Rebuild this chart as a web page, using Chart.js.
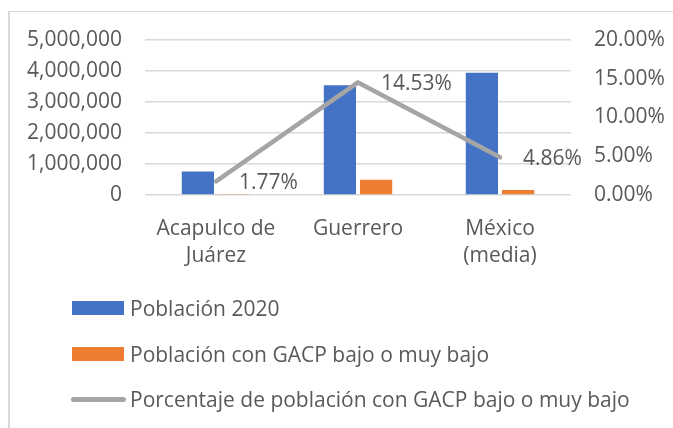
<!DOCTYPE html>
<html lang="es">
<head>
  <meta charset="UTF-8">
  <title>Población y GACP</title>
  <script src="https://cdn.jsdelivr.net/npm/chart.js"></script>
  <style>
    body {
      margin: 0;
      padding: 0;
      background: #ffffff;
      font-family: 'Open Sans', sans-serif;
      overflow: hidden;
    }
    .marco {
      position: absolute;
      left: 8px;
      top: 11px;
      width: 700px;
      height: 500px;
      border-left: 2px solid #d9d9d9;
      border-top: 1.5px solid #d9d9d9;
    }
    .contenedor {
      position: absolute;
      left: 0;
      top: 0;
      width: 673px;
      height: 428px;
    }
    .leyenda {
      position: absolute;
      left: 0;
      top: 0;
      font-size: 21px;
      color: #595959;
    }
    .item {
      position: absolute;
      left: 70px;
      height: 30px;
      display: flex;
      align-items: center;
      white-space: nowrap;
    }
    .muestra {
      display: inline-block;
      width: 52px;
      height: 14px;
      margin-left: 2px;
      margin-right: 6px;
    }
    .muestra.linea {
      width: 55px;
      height: 5px;
      border-radius: 3px;
      margin-left: 1px;
      margin-right: 4px;
    }
  </style>
</head>
<body>
  <div class="marco"></div>
  <div class="contenedor">
    <canvas id="graficoGACP"></canvas>
  </div>
  <div class="leyenda" id="leyenda"></div>

  <script>
    // Datos
    const categorias = [['Acapulco de', 'Juárez'], 'Guerrero', ['México', '(media)']];
    const nombresSeries = [
      'Población 2020',
      'Población con GACP bajo o muy bajo',
      'Porcentaje de población con GACP bajo o muy bajo'
    ];
    const poblacion2020 = [760000, 3540685, 3940000];
    const poblacionGACP = [13800, 490000, 165000];
    const porcentajeGACP = [1.77, 14.53, 4.86];

    const colores = ['#4472c4', '#ed7d31', '#a5a5a5'];
    const colorTexto = '#595959';
    const fuente = { family: "'Open Sans', sans-serif", size: 21 };

    Chart.defaults.color = colorTexto;
    Chart.defaults.font.family = fuente.family;
    Chart.defaults.font.size = fuente.size;

    // Etiquetas de datos a la derecha de cada punto de la línea
    const etiquetasLinea = {
      id: 'etiquetasLinea',
      afterDatasetsDraw(chart) {
        const meta = chart.getDatasetMeta(2);
        const ctx = chart.ctx;
        ctx.save();
        ctx.font = `${fuente.size}px ${fuente.family}`;
        ctx.fillStyle = colorTexto;
        ctx.textAlign = 'left';
        ctx.textBaseline = 'middle';
        meta.data.forEach((pt, i) => {
          ctx.fillText(porcentajeGACP[i].toFixed(2) + '%', pt.x + 23, pt.y + 2);
        });
        ctx.restore();
      }
    };

    new Chart(document.getElementById('graficoGACP').getContext('2d'), {
      type: 'bar',
      data: {
        labels: categorias,
        datasets: [
          {
            label: nombresSeries[0],
            data: poblacion2020,
            backgroundColor: colores[0],
            yAxisID: 'y',
            order: 2,
            categoryPercentage: 0.51,
            barPercentage: 0.89
          },
          {
            label: nombresSeries[1],
            data: poblacionGACP,
            backgroundColor: colores[1],
            yAxisID: 'y',
            order: 2,
            categoryPercentage: 0.51,
            barPercentage: 0.89
          },
          {
            type: 'line',
            label: nombresSeries[2],
            data: porcentajeGACP,
            borderColor: colores[2],
            borderWidth: 4.5,
            borderCapStyle: 'round',
            borderJoinStyle: 'round',
            pointRadius: 0,
            tension: 0,
            yAxisID: 'y1',
            order: 1
          }
        ]
      },
      options: {
        responsive: true,
        maintainAspectRatio: false,
        animation: false,
        layout: { padding: { top: 40, left: 0, right: 0, bottom: 133 } },
        plugins: {
          legend: { display: false },
          tooltip: { enabled: false }
        },
        scales: {
          x: {
            grid: { display: false, drawTicks: false },
            border: { display: false },
            ticks: {
              padding: 20,
              maxRotation: 0,
              font: { size: fuente.size, lineHeight: 1.3 }
            },
            afterFit: s => { s.height = 100; }
          },
          y: {
            position: 'left',
            min: 0,
            max: 5000000,
            grid: { color: '#d9d9d9', lineWidth: 1.5, drawTicks: false },
            border: { display: false },
            ticks: {
              stepSize: 1000000,
              padding: 23,
              callback: v => v.toLocaleString('en-US')
            },
            afterFit: s => { s.width = 145; }
          },
          y1: {
            position: 'right',
            min: 0,
            max: 20,
            grid: { display: false, drawTicks: false },
            border: { display: false },
            ticks: {
              stepSize: 5,
              padding: 23,
              callback: v => v.toFixed(2) + '%'
            },
            afterFit: s => { s.width = 102; }
          }
        }
      },
      plugins: [etiquetasLinea]
    });

    // Leyenda en HTML, una serie por renglón
    const posicionesLeyenda = [293, 339, 384];
    const leyenda = document.getElementById('leyenda');
    nombresSeries.forEach((nombre, i) => {
      const item = document.createElement('div');
      item.className = 'item';
      item.style.top = posicionesLeyenda[i] + 'px';
      const muestra = document.createElement('span');
      muestra.className = 'muestra' + (i === 2 ? ' linea' : '');
      muestra.style.background = colores[i];
      const texto = document.createElement('span');
      texto.textContent = nombre;
      item.appendChild(muestra);
      item.appendChild(texto);
      leyenda.appendChild(item);
    });
  </script>
</body>
</html>
